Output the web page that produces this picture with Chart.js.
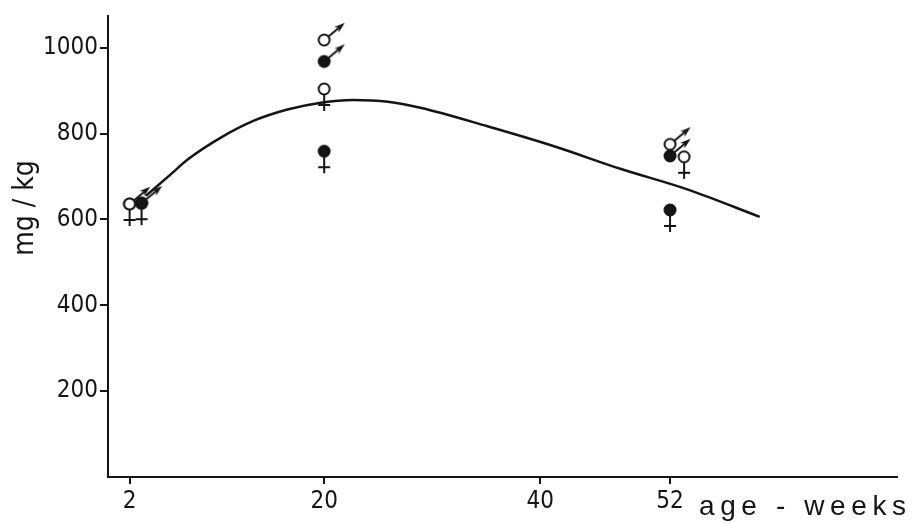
<!DOCTYPE html>
<html>
<head>
<meta charset="utf-8">
<script src="https://cdn.jsdelivr.net/npm/chart.js@4"></script>
<style>
  html, body { margin: 0; padding: 0; background: #fff; }
  #wrap { width: 912px; height: 523px; }
</style>
</head>
<body>
<div id="wrap"><canvas id="chart" width="912" height="523"></canvas></div>
<script>
// tick labels
const xTicks = [2, 20, 40, 52];
const yTicks = [200, 400, 600, 800, 1000];

// open circles = ♂ / ♀ (weeks, mg/kg)
const openMaleWeeks = [2, 20, 52];
const openMaleValues = [636, 1018, 775];
const openFemaleWeeks = [2, 20, 53.3];
const openFemaleValues = [636, 904, 746];

// filled circles
const filledMaleWeeks = [3.1, 20, 52];
const filledMaleValues = [638, 968, 748];
const filledFemaleWeeks = [3.1, 20, 52];
const filledFemaleValues = [638, 759, 622];

// fitted curve
const curveWeeks = [3.5, 5.8, 7.4, 10.4, 13.5, 16.6, 19.7, 22.7, 25.9, 28.9, 35.1, 41.2, 47.4, 53.6, 60.3];
const curveValues = [655, 705, 740, 790, 830, 856, 872, 878, 874, 860, 817, 771, 718, 670, 606];

const INK = '#151515';
const FONT = "'Liberation Sans Narrow', 'DejaVu Sans Condensed', 'Liberation Sans', sans-serif";

function toPoints(xs, ys) {
  return xs.map((x, i) => ({ x: x, y: ys[i] }));
}

/* symbol: circle (open or filled) with male arrow or female cross */
function makeSymbol(filled, sex) {
  const c = document.createElement('canvas');
  c.width = 64; c.height = 64;
  const g = c.getContext('2d');
  const cx = 32, cy = 32, r = 5.5;
  g.strokeStyle = INK;
  g.fillStyle = INK;
  g.lineWidth = 2;
  if (sex === 'male') {
    const a = -40 * Math.PI / 180;
    const ux = Math.cos(a), uy = Math.sin(a);
    const px = -uy, py = ux;
    g.beginPath();
    g.moveTo(cx + ux * r, cy + uy * r);
    g.lineTo(cx + ux * 20, cy + uy * 20);
    g.stroke();
    g.beginPath();
    g.moveTo(cx + ux * 27, cy + uy * 27);
    g.lineTo(cx + ux * 16 + px * 3.5, cy + uy * 16 + py * 3.5);
    g.lineTo(cx + ux * 19, cy + uy * 19);
    g.lineTo(cx + ux * 16 - px * 3.5, cy + uy * 16 - py * 3.5);
    g.closePath();
    g.fill();
  } else {
    g.beginPath();
    g.moveTo(cx, cy + r);
    g.lineTo(cx, cy + 22);
    g.moveTo(cx - 6, cy + 16);
    g.lineTo(cx + 6, cy + 16);
    g.stroke();
  }
  g.beginPath();
  g.arc(cx, cy, r, 0, Math.PI * 2);
  g.fillStyle = filled ? INK : '#fff';
  g.fill();
  g.stroke();
  return c;
}

const axisTexts = {
  id: 'axisTexts',
  afterDraw(chart) {
    const ctx = chart.ctx;
    const xs = chart.scales.x;
    ctx.save();
    ctx.fillStyle = INK;
    ctx.font = "28px 'Liberation Sans', 'DejaVu Sans', sans-serif";
    ctx.letterSpacing = '5.6px';
    ctx.textAlign = 'left';
    ctx.textBaseline = 'alphabetic';
    ctx.fillText('age - weeks', xs.getPixelForValue(52) + 29, 515);
    ctx.font = "28px 'DejaVu Sans Condensed', 'DejaVu Sans', sans-serif";
    ctx.letterSpacing = '0px';
    ctx.translate(26, 208);
    ctx.rotate(-Math.PI / 2);
    ctx.textAlign = 'center';
    ctx.textBaseline = 'middle';
    ctx.fillText('mg / kg', 0, 0);
    ctx.restore();
  }
};

const symbolSet = (label, xs, ys, filled, sex, order) => ({
  label: label,
  data: toPoints(xs, ys),
  pointStyle: makeSymbol(filled, sex),
  pointRadius: 6,
  pointHoverRadius: 6,
  showLine: false,
  clip: false,
  order: order
});

new Chart(document.getElementById('chart'), {
  type: 'scatter',
  data: {
    datasets: [
      symbolSet('filled ♂', filledMaleWeeks, filledMaleValues, true, 'male', 1),
      symbolSet('filled ♀', filledFemaleWeeks, filledFemaleValues, true, 'female', 2),
      symbolSet('open ♂', openMaleWeeks, openMaleValues, false, 'male', 3),
      symbolSet('open ♀', openFemaleWeeks, openFemaleValues, false, 'female', 4),
      {
        label: 'curve',
        data: toPoints(curveWeeks, curveValues),
        showLine: true,
        borderColor: INK,
        borderWidth: 2.5,
        pointRadius: 0,
        cubicInterpolationMode: 'monotone',
        clip: false,
        order: 5
      }
    ]
  },
  options: {
    responsive: false,
    animation: false,
    devicePixelRatio: 1,
    layout: { padding: { top: 12, right: 15, left: 0, bottom: 0 } },
    plugins: { legend: { display: false }, tooltip: { enabled: false } },
    scales: {
      x: {
        type: 'linear',
        min: 0,
        max: 73,
        afterBuildTicks: s => { s.ticks = xTicks.map(v => ({ value: v })); },
        afterFit: s => { s.height = 46; },
        ticks: { color: INK, font: { family: FONT, size: 24 }, padding: 3, maxRotation: 0, autoSkip: false,
                 callback: v => String(v) },
        grid: { display: true, drawOnChartArea: false, drawTicks: true, tickLength: 7, color: INK, lineWidth: 2 },
        border: { display: true, color: INK, width: 2 }
      },
      y: {
        type: 'linear',
        min: 0,
        max: 1073,
        afterBuildTicks: s => { s.ticks = yTicks.map(v => ({ value: v })); },
        afterFit: s => { s.width = 108; },
        ticks: { color: INK, font: { family: FONT, size: 24 }, padding: 2, callback: v => String(v) },
        grid: { display: true, drawOnChartArea: false, drawTicks: true, tickLength: 8, color: INK, lineWidth: 2 },
        border: { display: true, color: INK, width: 2 }
      }
    }
  },
  plugins: [axisTexts]
});
</script>
</body>
</html>
